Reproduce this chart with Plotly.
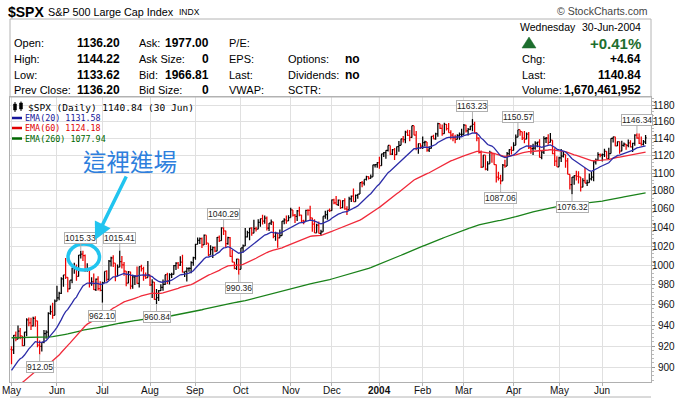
import numpy as np
import pandas as pd
import plotly.graph_objects as go

# ------------------------------------------------------------------ data
holidays = ["2003-05-26", "2003-07-04", "2003-09-01", "2003-11-27", "2003-12-25",
            "2004-01-01", "2004-01-19", "2004-02-16", "2004-04-09", "2004-05-31", "2004-06-11"]

opens = [
    916.92, 916.30, 930.08, 926.55, 934.39, 929.62, 920.27, 933.41, 945.11, 942.30, 939.28, 946.67, 944.30, 920.77, 919.73, 923.42, 931.87, 933.22, 951.48, 953.22, 949.64,
    963.59, 967.00, 971.56, 986.24, 990.14, 987.76, 975.93, 984.84, 997.48, 998.51, 988.61, 1010.74, 1011.66, 1010.09, 994.70, 995.69, 981.64, 983.45, 975.32, 985.82, 976.22,
    974.50, 982.32, 993.75, 985.70, 1004.42, 1007.84, 1002.21, 988.70, 998.14, 1003.86, 1000.42, 994.09, 981.73, 993.32, 978.80, 988.11, 988.61, 981.60, 998.68, 996.52, 989.28, 987.49,
    990.31, 980.15, 982.82, 965.46, 967.08, 974.12, 977.59, 980.59, 990.35, 984.03, 990.51, 990.67, 999.74, 1002.35, 1000.30, 1003.27, 993.06, 993.71, 996.73, 996.79, 1002.84,
    1008.01, 1021.99, 1026.27, 1027.97, 1021.39, 1031.64, 1023.17, 1010.92, 1016.42, 1018.63, 1014.81, 1029.32, 1025.97, 1039.58, 1036.30, 1022.82, 1029.03, 1009.38, 1003.27, 996.85, 1006.58,
    995.97, 1018.22, 1020.24, 1029.85, 1034.35, 1039.25, 1033.78, 1038.73, 1038.06, 1045.35, 1049.48, 1046.76, 1050.07, 1039.32, 1044.68, 1046.03, 1030.36, 1033.77, 1028.91, 1031.13, 1046.79, 1048.11, 1046.94,
    1050.71, 1059.02, 1053.25, 1051.81, 1058.05, 1053.21, 1047.11, 1046.57, 1058.53, 1058.41, 1050.35, 1043.63, 1034.15, 1042.44, 1033.65, 1035.28, 1052.08, 1053.89, 1058.45,
    1058.20, 1070.12, 1066.62, 1064.73, 1069.72, 1061.50, 1069.30, 1060.18, 1059.05, 1071.21, 1074.14, 1068.04, 1075.13, 1076.48, 1089.18, 1088.66, 1092.94, 1096.02, 1094.04, 1095.89, 1109.48, 1109.64,
    1111.92, 1108.48, 1122.22, 1123.67, 1126.33, 1131.92, 1121.86, 1127.23, 1121.22, 1130.52, 1132.05, 1139.83, 1138.77, 1147.62, 1143.94, 1141.55, 1155.37, 1144.05, 1128.48, 1134.11,
    1131.13, 1135.26, 1136.03, 1126.52, 1128.59, 1142.76, 1139.81, 1145.54, 1157.76, 1152.11, 1145.81, 1156.99, 1151.82, 1147.06, 1144.11, 1140.99, 1139.09, 1143.67, 1144.91,
    1144.94, 1155.97, 1149.10, 1151.03, 1154.87, 1156.86, 1147.20, 1140.58, 1123.89, 1106.78, 1120.57, 1104.49, 1110.70, 1123.75, 1122.32, 1109.78, 1095.40, 1093.95, 1091.33, 1109.19, 1108.06, 1122.47, 1127.00,
    1126.21, 1132.17, 1141.81, 1150.57, 1148.16, 1140.53, 1139.32, 1145.20, 1129.44, 1128.17, 1128.84, 1134.61, 1135.82, 1118.15, 1124.09, 1139.93, 1140.60, 1135.53, 1138.11, 1122.41, 1113.89,
    1107.30, 1117.49, 1119.55, 1121.53, 1113.99, 1098.70, 1087.12, 1095.45, 1097.28, 1096.44, 1095.70, 1084.10, 1091.49, 1088.68, 1089.19, 1093.56, 1095.41, 1113.05, 1114.94, 1121.28,
    1120.68, 1121.20, 1124.99, 1116.64, 1122.50, 1140.42, 1142.18, 1131.33, 1136.47, 1125.29, 1132.01, 1133.56, 1132.05, 1135.02, 1130.30, 1134.41, 1144.06, 1140.65, 1134.43, 1133.35, 1136.20,
]

highs = [
    919.68, 930.56, 933.88, 939.61, 937.22, 929.62, 933.77, 946.84, 947.51, 947.29, 948.23, 948.65, 944.30, 925.34, 923.85, 935.30, 935.20, 952.76, 959.39, 962.08, 965.38,
    979.11, 973.02, 987.85, 990.14, 1007.69, 987.76, 984.84, 997.48, 1002.74, 1000.92, 1010.86, 1015.33, 1015.12, 1011.22, 1002.09, 995.69, 987.84, 991.64, 986.53, 988.88, 983.61,
    983.26, 993.78, 995.00, 1005.56, 1008.92, 1010.43, 1002.21, 1000.86, 1015.41, 1009.61, 1003.47, 994.09, 994.25, 993.32, 990.29, 989.86, 998.89, 998.71, 1000.68, 998.64, 992.62, 1004.59,
    990.31, 985.75, 982.82, 975.74, 974.89, 980.57, 985.46, 990.41, 992.50, 991.91, 992.39, 1000.35, 1003.30, 1003.54, 1009.53, 1011.01, 993.71, 997.93, 998.05, 1004.12, 1008.85,
    1022.59, 1029.34, 1029.17, 1029.21, 1032.41, 1031.64, 1023.17, 1020.88, 1019.65, 1019.79, 1029.66, 1031.34, 1040.16, 1040.29, 1036.30, 1030.12, 1029.83, 1015.97, 1003.45, 1006.89, 1006.58,
    1018.22, 1021.87, 1039.31, 1036.48, 1039.25, 1040.06, 1048.28, 1040.84, 1048.90, 1049.49, 1053.79, 1052.94, 1051.89, 1044.69, 1048.57, 1046.03, 1035.44, 1033.77, 1037.75, 1046.79, 1049.83, 1052.81, 1053.09,
    1061.44, 1059.02, 1054.54, 1058.94, 1062.39, 1053.65, 1048.23, 1059.10, 1059.62, 1063.65, 1050.35, 1048.77, 1043.95, 1046.48, 1037.57, 1052.08, 1058.05, 1058.45, 1060.63,
    1070.47, 1071.22, 1074.30, 1070.37, 1069.72, 1069.59, 1071.94, 1063.02, 1073.63, 1074.76, 1082.79, 1075.94, 1076.54, 1089.50, 1091.06, 1092.94, 1096.95, 1096.40, 1098.47, 1109.48, 1109.75, 1112.56,
    1118.85, 1122.22, 1124.46, 1126.33, 1131.92, 1131.92, 1127.85, 1129.07, 1130.75, 1137.11, 1139.83, 1142.93, 1149.21, 1150.51, 1150.31, 1155.38, 1155.37, 1149.14, 1134.39, 1134.17,
    1142.45, 1137.44, 1136.03, 1131.17, 1142.79, 1144.46, 1147.02, 1158.89, 1157.76, 1156.88, 1158.98, 1157.40, 1158.57, 1149.81, 1146.69, 1144.54, 1145.24, 1147.23, 1151.68,
    1157.45, 1156.54, 1152.44, 1154.97, 1163.23, 1159.94, 1147.32, 1141.45, 1125.96, 1120.63, 1120.57, 1113.76, 1125.76, 1123.75, 1122.72, 1109.78, 1101.52, 1098.32, 1110.38, 1115.27, 1124.37, 1127.60, 1130.83,
    1135.67, 1144.81, 1150.57, 1150.57, 1148.16, 1148.97, 1147.29, 1147.78, 1132.52, 1134.08, 1136.80, 1136.18, 1139.26, 1125.72, 1142.77, 1141.92, 1145.08, 1146.56, 1138.11, 1128.80, 1119.26,
    1118.72, 1127.74, 1125.07, 1121.53, 1117.30, 1098.70, 1095.69, 1097.55, 1102.77, 1102.10, 1095.70, 1094.10, 1105.93, 1092.62, 1099.64, 1101.28, 1113.80, 1116.71, 1123.95, 1122.69,
    1122.70, 1128.10, 1125.31, 1129.17, 1140.54, 1142.18, 1142.18, 1136.47, 1136.47, 1137.36, 1135.28, 1133.56, 1138.96, 1138.05, 1135.05, 1145.15, 1146.34, 1145.97, 1142.60, 1138.26, 1144.22,
]

lows = [
    902.83, 912.35, 924.55, 926.38, 926.41, 919.72, 920.27, 929.30, 938.91, 935.24, 938.79, 938.60, 918.74, 912.05, 914.91, 922.54, 926.95, 927.33, 950.12, 946.23, 949.64,
    963.59, 964.47, 970.72, 978.13, 986.01, 972.59, 975.93, 981.61, 991.27, 984.27, 988.61, 1007.04, 1004.61, 993.08, 993.36, 977.40, 979.08, 974.86, 973.80, 974.29, 973.60,
    962.10, 982.32, 983.34, 985.70, 998.73, 998.17, 983.63, 988.70, 998.14, 996.67, 989.30, 978.60, 981.71, 975.63, 976.08, 979.79, 981.07, 977.49, 993.59, 984.15, 985.96, 987.49,
    978.86, 966.79, 964.97, 960.84, 963.82, 973.83, 974.21, 979.90, 980.85, 980.36, 987.10, 990.67, 995.30, 996.62, 999.33, 992.62, 987.91, 983.57, 993.33, 991.75, 999.52,
    1005.73, 1021.99, 1022.19, 1018.19, 1021.39, 1021.14, 1009.74, 1010.92, 1007.71, 1013.59, 1014.81, 1024.53, 1025.75, 1031.89, 1018.30, 1021.54, 1008.93, 1003.26, 996.08, 995.31, 990.36,
    995.97, 1013.38, 1020.24, 1029.15, 1026.27, 1030.96, 1033.78, 1035.74, 1038.06, 1040.84, 1043.15, 1044.04, 1036.57, 1036.13, 1042.59, 1028.39, 1025.89, 1018.32, 1028.91, 1031.13, 1043.35, 1043.82, 1046.94,
    1050.71, 1051.70, 1044.88, 1046.93, 1052.17, 1045.58, 1043.46, 1046.57, 1052.96, 1048.11, 1035.28, 1034.00, 1034.15, 1033.42, 1031.20, 1035.28, 1049.31, 1048.28, 1056.77,
    1058.20, 1065.22, 1064.63, 1063.15, 1060.09, 1060.93, 1059.16, 1053.41, 1059.05, 1067.64, 1068.00, 1068.04, 1071.14, 1076.48, 1084.19, 1086.14, 1091.73, 1092.73, 1094.04, 1095.89, 1106.41, 1106.21,
    1105.08, 1108.48, 1118.44, 1116.45, 1124.91, 1120.90, 1120.90, 1115.19, 1121.22, 1124.54, 1132.05, 1135.40, 1134.62, 1143.01, 1136.85, 1141.00, 1144.05, 1126.50, 1122.38, 1127.73,
    1127.87, 1131.33, 1124.74, 1124.44, 1128.39, 1139.21, 1138.70, 1142.33, 1151.44, 1143.24, 1145.81, 1149.54, 1146.85, 1139.00, 1136.98, 1134.43, 1138.96, 1138.62, 1141.80,
    1144.94, 1147.31, 1143.78, 1149.81, 1148.77, 1146.97, 1136.84, 1122.53, 1105.87, 1106.78, 1103.36, 1102.61, 1110.70, 1111.91, 1109.69, 1089.54, 1091.57, 1087.06, 1091.33, 1106.13, 1108.06, 1119.66, 1121.46,
    1126.20, 1132.17, 1141.64, 1143.30, 1138.41, 1134.52, 1139.32, 1127.70, 1122.15, 1120.75, 1126.90, 1129.84, 1118.09, 1116.03, 1121.95, 1134.81, 1132.91, 1135.53, 1121.70, 1108.04, 1107.23,
    1107.30, 1112.89, 1117.90, 1106.30, 1098.63, 1081.63, 1076.32, 1086.93, 1091.76, 1088.24, 1079.36, 1084.10, 1088.49, 1085.43, 1089.19, 1091.77, 1090.74, 1109.91, 1114.86, 1118.10,
    1113.32, 1118.64, 1116.57, 1116.64, 1122.50, 1135.45, 1131.17, 1131.33, 1122.16, 1125.29, 1130.55, 1126.89, 1129.83, 1129.64, 1124.37, 1131.73, 1139.94, 1133.69, 1131.72, 1131.81, 1133.62,
]

closes = [
    916.30, 930.08, 926.55, 934.39, 929.62, 920.27, 933.41, 945.11, 942.30, 939.28, 946.67, 944.30, 920.77, 919.73, 923.42, 931.87, 933.22, 951.48, 953.22, 949.64, 963.59,
    967.00, 971.56, 986.24, 990.14, 987.76, 975.93, 984.84, 997.48, 998.51, 988.61, 1010.74, 1011.66, 1010.09, 994.70, 995.69, 981.64, 983.45, 975.32, 985.82, 976.22, 974.50,
    982.32, 993.75, 985.70, 1004.42, 1007.84, 1002.21, 988.70, 998.14, 1003.86, 1000.42, 994.09, 981.73, 993.32, 978.80, 988.11, 988.61, 981.60, 998.68, 996.52, 989.28, 987.49, 990.31,
    980.15, 982.82, 965.46, 967.08, 974.12, 977.59, 980.59, 990.35, 984.03, 990.51, 990.67, 999.74, 1002.35, 1000.30, 1003.27, 993.06, 993.71, 996.73, 996.79, 1002.84, 1008.01,
    1021.99, 1026.27, 1027.97, 1021.39, 1031.64, 1023.17, 1010.92, 1016.42, 1018.63, 1014.81, 1029.32, 1025.97, 1039.58, 1036.30, 1022.82, 1029.03, 1009.38, 1003.27, 996.85, 1006.58, 995.97,
    1018.22, 1020.24, 1029.85, 1034.35, 1039.25, 1033.78, 1038.73, 1038.06, 1045.35, 1049.48, 1046.76, 1050.07, 1039.32, 1044.68, 1046.03, 1030.36, 1033.77, 1028.91, 1031.13, 1046.79, 1048.11, 1046.94, 1050.71,
    1059.02, 1053.25, 1051.81, 1058.05, 1053.21, 1047.11, 1046.57, 1058.53, 1058.41, 1050.35, 1043.63, 1034.15, 1042.44, 1033.65, 1035.28, 1052.08, 1053.89, 1058.45, 1058.20,
    1070.12, 1066.62, 1064.73, 1069.72, 1061.50, 1069.30, 1060.18, 1059.05, 1071.21, 1074.14, 1068.04, 1075.13, 1076.48, 1089.18, 1088.66, 1092.94, 1096.02, 1094.04, 1095.89, 1109.48, 1109.64, 1111.92,
    1108.48, 1122.22, 1123.67, 1126.33, 1131.92, 1121.86, 1127.23, 1121.22, 1130.52, 1132.05, 1139.83, 1138.77, 1147.62, 1143.94, 1141.55, 1155.37, 1144.05, 1128.48, 1134.11, 1131.13,
    1135.26, 1136.03, 1126.52, 1128.59, 1142.76, 1139.81, 1145.54, 1157.76, 1152.11, 1145.81, 1156.99, 1151.82, 1147.06, 1144.11, 1140.99, 1139.09, 1143.67, 1144.91, 1144.94,
    1155.97, 1149.10, 1151.03, 1154.87, 1156.86, 1147.20, 1140.58, 1123.89, 1106.78, 1120.57, 1104.49, 1110.70, 1123.75, 1122.32, 1109.78, 1095.40, 1093.95, 1091.33, 1109.19, 1108.06, 1122.47, 1127.00, 1126.21,
    1132.17, 1141.81, 1150.57, 1148.16, 1140.53, 1139.32, 1145.20, 1129.44, 1128.17, 1128.84, 1134.61, 1135.82, 1118.15, 1124.09, 1139.93, 1140.60, 1135.53, 1138.11, 1122.41, 1113.89, 1107.30,
    1117.49, 1119.55, 1121.53, 1113.99, 1098.70, 1087.12, 1095.45, 1097.28, 1096.44, 1095.70, 1084.10, 1091.49, 1088.68, 1089.19, 1093.56, 1095.41, 1113.05, 1114.94, 1121.28, 1120.68,
    1121.20, 1124.99, 1116.64, 1122.50, 1140.42, 1142.18, 1131.33, 1136.47, 1125.29, 1132.01, 1133.56, 1132.05, 1135.02, 1130.30, 1134.41, 1144.06, 1140.65, 1134.43, 1133.35, 1136.20, 1140.84,
]

month_labels = ["May", "Jun", "Jul", "Aug", "Sep", "Oct", "Nov", "Dec", "<b>2004</b>",
                "Feb", "Mar", "Apr", "May", "Jun"]
y_ticks = [900, 920, 940, 960, 980, 1000, 1020, 1040, 1060, 1080, 1100, 1120, 1140, 1160, 1180]

# EMA values just before the first bar
ema20_seed = 895.0
ema60_seed = 877.0
ema260_seed = 928.0

label_dates = ["2003-05-20", "2003-06-17", "2003-07-01", "2003-07-14", "2003-08-06", "2003-09-19",
               "2003-09-30", "2004-03-05", "2004-03-24", "2004-04-05", "2004-05-11", "2004-06-24"]
label_values = [912.05, 1015.33, 962.10, 1015.41, 960.84, 1040.29,
                990.36, 1163.23, 1087.06, 1150.57, 1076.32, 1146.34]
label_kinds = ["low", "high", "low", "high", "low", "high",
               "low", "high", "low", "high", "low", "high"]

# ------------------------------------------------------------------ derived
dates = pd.bdate_range("2003-05-01", "2004-06-30")
dates = dates[~dates.isin(pd.to_datetime(holidays))]
n = len(closes)
assert len(dates) == n == len(opens) == len(highs) == len(lows), (len(dates), n)
xs = np.arange(n)
month_starts = [i for i in range(n) if i == 0 or dates[i].month != dates[i - 1].month]


def ema(values, period, seed):
    k = 2.0 / (period + 1)
    e = seed
    out = []
    for v in values:
        e = e + k * (v - e)
        out.append(e)
    return out


ema20 = ema(closes, 20, ema20_seed)
ema60 = ema(closes, 60, ema60_seed)
ema260 = ema(closes, 260, ema260_seed)

# ------------------------------------------------------------------ geometry
W, H = 686, 398
PL, PR, PT, PB = 10, 651, 97, 382


def fx(p):
    return (p - PL) / (PR - PL)


def fy(p):
    return (PB - p) / (PB - PT)


SANS = "Liberation Sans"
MONO = "DejaVu Sans Mono"

fig = go.Figure()
fig.add_trace(go.Ohlc(
    x=xs, open=opens, high=highs, low=lows, close=closes,
    increasing=dict(line=dict(color="#000000", width=1.25)),
    decreasing=dict(line=dict(color="#ee0000", width=1.25)),
    tickwidth=0.5, hoverinfo="skip"))
fig.add_trace(go.Scatter(x=xs, y=ema260, mode="lines", line=dict(color="#1a821a", width=1.3), hoverinfo="skip"))
fig.add_trace(go.Scatter(x=xs, y=ema60, mode="lines", line=dict(color="#f02a3a", width=1.3), hoverinfo="skip"))
fig.add_trace(go.Scatter(x=xs, y=ema20, mode="lines", line=dict(color="#2c2ca8", width=1.3), hoverinfo="skip"))

ann = []


def T(text, x, y, anchor="left", size=11, color="#000", family=SANS, yanchor="middle"):
    ann.append(dict(text=text, x=fx(x), y=fy(y), xref="paper", yref="paper",
                    xanchor=anchor, yanchor=yanchor, showarrow=False,
                    font=dict(family=family, size=size, color=color)))


# header
T("<b>$SPX</b>", 6, 12, size=14)
T("S&P 500 Large Cap Index", 46, 12, size=10.8)
T("INDX", 177, 12.5, size=8.5)
T("© StockCharts.com", 650, 11, anchor="right", size=10.5, color="#444")

rows = [43, 59, 75, 90]
for lab, val, y in zip(["Open:", "High:", "Low:", "Prev Close:"],
                       ["1136.20", "1144.22", "1133.62", "1136.20"], rows):
    T(lab, 12, y)
    T("<b>" + val + "</b>", 122, y, anchor="right", size=12)
for lab, val, y in zip(["Ask:", "Ask Size:", "Bid:", "Bid Size:"],
                       ["1977.00", "0", "1966.81", "0"], rows):
    T(lab, 137, y)
    T("<b>" + val + "</b>", 211, y, anchor="right", size=12)
for lab, y in zip(["P/E:", "EPS:", "Last:", "VWAP:"], rows):
    T(lab, 227, y)
for lab, y in zip(["Options:", "Dividends:", "SCTR:"], rows[1:]):
    T(lab, 286, y)
T("<b>no</b>", 343, rows[1], size=12)
T("<b>no</b>", 343, rows[2], size=12)

T("Wednesday", 518, 27, size=10.5)
T("30-Jun-2004", 643, 27, anchor="right", size=10.5)
T("<b>+0.41%</b>", 643, 43, anchor="right", size=15, color="#1d6e2e")
T("Chg:", 520, 59)
T("<b>+4.64</b>", 643, 59, anchor="right", size=12)
T("Last:", 520, 75)
T("<b>1140.84</b>", 643, 75, anchor="right", size=12)
T("Volume:", 520, 90)
T("<b>1,670,461,952</b>", 643, 90, anchor="right", size=12)

# chart legend
T("$SPX (Daily) 1140.84 (30 Jun)", 26, 107.5, family=MONO, size=9.5)
leg = [("EMA(20) 1131.58", "#16169a", 118), ("EMA(60) 1124.18", "#e00000", 128),
       ("EMA(260) 1077.94", "#006600", 138.5)]
for txt, col, y in leg:
    T(txt, 23, y, family=MONO, size=8.4, color=col)

# y tick labels (right aligned)
for v in y_ticks:
    ann.append(dict(text=str(v), x=fx(677), xref="paper", y=np.log10(v), yref="y",
                    xanchor="right", yanchor="middle", showarrow=False,
                    font=dict(family=SANS, size=10, color="#111")))

# x tick labels (month names under the month gridlines)
for pos, lab in zip(month_starts, month_labels):
    ann.append(dict(text=lab, x=int(pos), xref="x", y=fy(390.5), yref="paper",
                    xanchor="center", yanchor="middle", showarrow=False,
                    font=dict(family=SANS, size=10, color="#111")))

# high / low value labels
for d, v, kind in zip(label_dates, label_values, label_kinds):
    i = dates.get_loc(pd.Timestamp(d))
    ann.append(dict(text=f"{v:.2f}", x=int(i), y=np.log10(v), xref="x", yref="y",
                    showarrow=True, arrowhead=0, arrowwidth=1, arrowcolor="#b0b0b0",
                    ax=0, ay=-13 if kind == "high" else 13, standoff=0,
                    bgcolor="#ffffff", bordercolor="#b0b0b0", borderwidth=1, borderpad=0,
                    font=dict(family=SANS, size=8.5, color="#222")))

# callout
T("這裡進場", 130, 160.5, anchor="center", size=23.5, color="#2e7fdd", family="Noto Sans CJK TC")
ann.append(dict(text="", x=fx(95), y=fy(240), xref="paper", yref="paper",
                ax=32, ay=-65, showarrow=True, arrowhead=2, arrowsize=1.0,
                arrowwidth=3.5, arrowcolor="#21c4ef", standoff=0))

shapes = [
    dict(type="rect", xref="paper", yref="paper", x0=fx(10), x1=fx(651), y0=fy(97), y1=fy(19),
         line=dict(color="#b4b4b4", width=1)),
    dict(type="line", xref="paper", yref="paper", x0=fx(10), x1=fx(651), y0=fy(397), y1=fy(397),
         line=dict(color="#b4b4b4", width=1)),
    dict(type="line", xref="x", yref="paper", x0=month_starts[8], x1=month_starts[8], y0=0, y1=1,
         line=dict(color="#b8b8b8", width=1), layer="below"),
    dict(type="circle", xref="paper", yref="paper", x0=fx(68), x1=fx(99.5), y0=fy(270), y1=fy(244),
         line=dict(color="#21c4ef", width=3.5)),
    # tiny candle icon
    dict(type="line", xref="paper", yref="paper", x0=fx(15), x1=fx(15), y0=fy(112), y1=fy(102),
         line=dict(color="#000", width=1)),
    dict(type="rect", xref="paper", yref="paper", x0=fx(13.5), x1=fx(16.5), y0=fy(110), y1=fy(104),
         line=dict(color="#000", width=0.5), fillcolor="#000"),
    dict(type="line", xref="paper", yref="paper", x0=fx(21), x1=fx(21), y0=fy(111), y1=fy(101.5),
         line=dict(color="#000", width=1)),
    dict(type="rect", xref="paper", yref="paper", x0=fx(19.5), x1=fx(22.5), y0=fy(109), y1=fy(103),
         line=dict(color="#000", width=0.5), fillcolor="#000"),
    # triangle up
    dict(type="path", xref="paper", yref="paper",
         path=f"M {fx(522)},{fy(48)} L {fx(536)},{fy(48)} L {fx(529)},{fy(37)} Z",
         fillcolor="#1d6e2e", line=dict(color="#1d6e2e", width=0.5)),
]
for txt, col, y in leg:
    shapes.append(dict(type="line", xref="paper", yref="paper", x0=fx(12), x1=fx(22),
                       y0=fy(y), y1=fy(y), line=dict(color=col, width=2.5)))

fig.update_layout(
    width=W, height=H, autosize=False,
    margin=dict(l=PL, r=W - PR, t=PT, b=H - PB, pad=0, autoexpand=False),
    paper_bgcolor="#ffffff", plot_bgcolor="#ffffff",
    showlegend=False,
    xaxis=dict(range=[-0.7, 295.5], tickmode="array", tickvals=month_starts,
               showticklabels=False,
               showgrid=True, gridcolor="#e0e0e0", gridwidth=1, zeroline=False,
               showline=True, linecolor="#b0b0b0", mirror=True,
               ticks="outside", ticklen=3, tickcolor="#b0b0b0", automargin=False,
               rangeslider=dict(visible=False), fixedrange=True),
    yaxis=dict(type="log", side="right", range=[np.log10(886.4), np.log10(1190.1)],
               tickmode="array", tickvals=y_ticks, showticklabels=False, automargin=False,
               showgrid=True, gridcolor="#e0e0e0", gridwidth=1, zeroline=False,
               showline=True, linecolor="#b0b0b0", mirror=True,
               ticks="outside", ticklen=3, tickcolor="#999999",
               minor=dict(tickvals=list(range(888, 1190, 4)), ticklen=2, tickcolor="#bbbbbb",
                          showgrid=False),
               fixedrange=True),
    annotations=ann,
    shapes=shapes,
)

fig.write_html("out.html", config={"displayModeBar": False},
               post_script="document.body.style.margin='0px';document.body.style.padding='0px';")
